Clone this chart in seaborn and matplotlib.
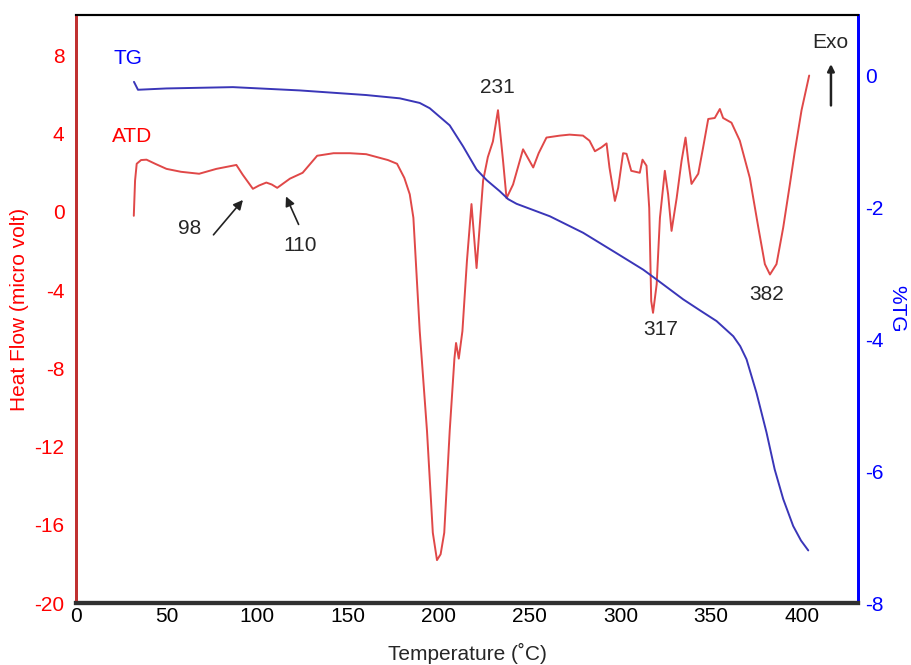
import pandas as pd
import matplotlib
matplotlib.use("Agg")
import matplotlib.pyplot as plt
import seaborn as sns

# DTA (ATD) curve, heat flow in micro volt
atd_temp = [32, 32.7, 33.6, 36, 39, 44, 50, 58, 68, 77.5, 88.5, 92, 97.6, 101, 105, 108, 111,
            118, 125, 133, 142, 151, 160, 166, 172, 177, 181, 184, 186, 189.5, 193.5,
            196.7, 199, 201, 203, 206, 208.6, 209.5, 211, 213, 215.5, 218, 220.8, 224.4,
            227, 229.8, 232.6, 235.4, 237.3, 240.9, 246.4, 252, 255, 259.3, 266.7, 272,
            279.4, 283, 286, 289.6, 292.4, 294, 297, 298.8, 301.5, 303.4, 306, 310.7,
            312.2, 314.4, 315.9, 317, 318, 320, 321.8, 324.5, 326.3, 328.2, 331, 333.7,
            335.9, 337.4, 339.2, 342.9, 345.6, 348.4, 352, 354.8, 356.6, 361.2, 365.8,
            371.3, 376, 379.6, 382.4, 386, 389.7, 393.4, 396.1, 399.8, 404]
atd_flow = [-0.2, 1.6, 2.46, 2.65, 2.67, 2.45, 2.2, 2.05, 1.95, 2.2, 2.4, 1.9, 1.18, 1.35, 1.5,
            1.4, 1.23, 1.7, 2.0, 2.87, 3.0, 3.0, 2.95, 2.8, 2.65, 2.46, 1.74, 0.9, -0.3,
            -6.1, -11.2, -16.4, -17.8, -17.5, -16.4, -11.2, -7.5, -6.7, -7.5, -6.1, -2.5,
            0.4, -2.87, 1.6, 2.8, 3.6, 5.2, 2.6, 0.7, 1.4, 3.2, 2.27, 3.0, 3.8, 3.9, 3.95,
            3.9, 3.64, 3.1, 3.3, 3.5, 2.27, 0.56, 1.23, 3.0, 2.97, 2.1, 2.0, 2.67, 2.36,
            0.2, -4.56, -5.16, -3.7, -0.3, 2.1, 0.9, -0.97, 0.7, 2.6, 3.8, 2.6, 1.43, 1.95,
            3.3, 4.75, 4.8, 5.26, 4.8, 4.56, 3.64, 1.74, -0.8, -2.67, -3.2, -2.67, -0.8,
            1.43, 3.1, 5.2, 6.97]

# TG curve, mass change in %
tg_temp = [32.1, 34.3, 50, 86.6, 123.4, 160, 178.5, 189.5, 195, 200.5, 206, 213.4, 220.8,
           226.3, 233.6, 238.2, 242.8, 261.2, 279.5, 297.9, 312.6, 320, 334.6, 344, 353,
           362.2, 366, 369.5, 375, 380.5, 385, 389.7, 395.2, 399.5, 403.5]
tg_mass = [-0.09, -0.21, -0.19, -0.17, -0.22, -0.29, -0.34, -0.41, -0.49, -0.62, -0.75,
           -1.07, -1.42, -1.58, -1.75, -1.87, -1.94, -2.13, -2.38, -2.69, -2.94, -3.09,
           -3.39, -3.56, -3.72, -3.95, -4.1, -4.3, -4.81, -5.41, -5.97, -6.42, -6.83,
           -7.05, -7.2]

atd_df = pd.DataFrame({"temp": atd_temp, "flow": atd_flow})
tg_df = pd.DataFrame({"temp": tg_temp, "mass": tg_mass})

sns.set_style("white")
plt.rcParams["font.family"] = ["Liberation Sans", "DejaVu Sans"]
plt.rcParams["font.size"] = 15
plt.rcParams["axes.unicode_minus"] = False

fig = plt.figure(figsize=(9.12, 6.65), dpi=100)
ax = fig.add_axes([0.083, 0.093, 0.858, 0.884])
ax2 = ax.twinx()

sns.lineplot(data=atd_df, x="temp", y="flow", ax=ax, color="#e04848", lw=1.4,
             sort=False, estimator=None)
sns.lineplot(data=tg_df, x="temp", y="mass", ax=ax2, color="#3a36b8", lw=1.4,
             sort=False, estimator=None)

ax.set_xlim(0, 431)
ax.set_ylim(-20, 10.05)
ax2.set_ylim(-7.95, 0.92)
ax2.set_xlim(0, 431)
ax.set_xticks(range(0, 401, 50))
ax.set_yticks(range(-20, 9, 4))
ax2.set_yticks(range(-8, 1, 2))

ax.set_xlabel("Temperature (\u02daC)", fontsize=15, labelpad=12)
ax.set_ylabel("Heat Flow (micro volt)", color="red", fontsize=15, labelpad=4)
ax2.set_ylabel("%TG", color="blue", fontsize=15, rotation=270, labelpad=16)

ax.tick_params(axis="y", colors="red", length=0, labelsize=15, pad=8)
ax.tick_params(axis="x", colors="black", length=3, width=2, direction="in",
               labelsize=15, pad=3)
ax2.tick_params(axis="y", colors="blue", length=0, labelsize=15, pad=5)

for a in (ax, ax2):
    a.spines["left"].set_color("#c03030")
    a.spines["left"].set_linewidth(2)
    a.spines["right"].set_color("blue")
    a.spines["right"].set_linewidth(2)
    a.spines["top"].set_color("black")
    a.spines["top"].set_linewidth(1.5)
    a.spines["bottom"].set_color("#303030")
    a.spines["bottom"].set_linewidth(3)

# labels and peak annotations
ax.text(28.7, 7.85, "TG", color="blue", ha="center", va="center")
ax.text(31, 3.85, "ATD", color="red", ha="center", va="center")
ax.text(62.8, -0.87, "98", ha="center", va="center")
ax.text(123.4, -1.74, "110", ha="center", va="center")
ax.text(232.5, 6.36, "231", ha="center", va="center")
ax.text(322.3, -6.0, "317", ha="center", va="center")
ax.text(380.7, -4.2, "382", ha="center", va="center")
ax.text(415.4, 8.67, "Exo", ha="center", va="center")

arrow = dict(arrowstyle="-|>", color="#222222", lw=1.2, mutation_scale=14)
ax.annotate("", xy=(93.1, 0.72), xytext=(74.9, -1.28), arrowprops=arrow)
ax.annotate("", xy=(115.2, 0.92), xytext=(123.4, -0.77), arrowprops=arrow)
ax.annotate("", xy=(416, 7.7), xytext=(416, 5.3),
            arrowprops=dict(arrowstyle="-|>", color="#222222", lw=1.8, mutation_scale=10))

fig.savefig("out.png", dpi=100)
